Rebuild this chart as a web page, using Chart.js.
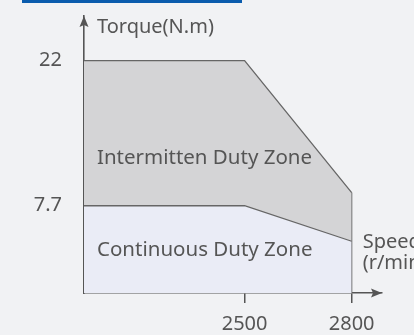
<!DOCTYPE html>
<html>
<head>
<meta charset="utf-8">
<script src="https://cdn.jsdelivr.net/npm/chart.js@4"></script>
<style>
  html, body { margin: 0; padding: 0; background: #f1f2f4; }
  #wrap { position: relative; width: 414px; height: 335px; }
</style>
</head>
<body>
<div id="wrap"><canvas id="torqueChart"></canvas></div>
<script>
// speed points: the first one sits on the vertical axis
const A_speeds = [2050, 2500, 2800];
const A_peakTorque = [22, 22, 9];
const A_ratedTorque = [7.7, 7.7, 4.2];
const A_speedTicks = [2500, 2800];
const A_torqueTicks = [7.7, 22];
const S_zoneLabels = ["Intermitten Duty Zone", "Continuous Duty Zone"];

const I_speedMin = 2050, I_speedMax = 2885;
const I_torqueMin = -0.9, I_torqueMax = 26.4;

const S_font = "'Noto Sans', sans-serif";
const S_text = "#555555";
const S_axis = "#555555";

function toPoints(A_y) {
    return A_speeds.map((x, i) => ({ x: x, y: A_y[i] }));
}

const lastSpeed = A_speeds[A_speeds.length - 1];

// no extra room around the axes for half labels
function noPadding(scale) {
    scale.paddingTop = 0;
    scale.paddingBottom = 0;
    scale.paddingLeft = 0;
    scale.paddingRight = 0;
}

// arrows, axis titles and zone names
const decorations = {
    id: "decorations",
    beforeDraw(chart) {
        const ctx = chart.ctx;
        ctx.save();
        ctx.fillStyle = "#0a5cad";
        ctx.fillRect(22, 0, 220, 3);
        ctx.restore();
    },
    afterDraw(chart) {
        const ctx = chart.ctx;
        const area = chart.chartArea;
        ctx.save();
        ctx.fillStyle = S_axis;
        // arrow on the torque axis
        ctx.beginPath();
        ctx.moveTo(area.left, area.top);
        ctx.lineTo(area.left + 4.5, area.top + 11);
        ctx.lineTo(area.left, area.top + 9);
        ctx.lineTo(area.left - 4.5, area.top + 11);
        ctx.closePath();
        ctx.fill();
        // arrow on the speed axis
        ctx.beginPath();
        ctx.moveTo(area.right, area.bottom);
        ctx.lineTo(area.right - 11, area.bottom - 4.5);
        ctx.lineTo(area.right - 9, area.bottom);
        ctx.lineTo(area.right - 11, area.bottom + 4.5);
        ctx.closePath();
        ctx.fill();

        ctx.fillStyle = S_text;
        ctx.font = "20px " + S_font;
        ctx.textAlign = "left";
        ctx.textBaseline = "middle";
        ctx.fillText("Torque(N.m)", area.left + 13, area.top + 11);
        const xS = chart.scales.x.getPixelForValue(lastSpeed);
        ctx.fillText("Speed", xS + 11, 242);
        ctx.fillText("(r/min)", xS + 11, 263);
        ctx.font = "20.5px " + S_font;
        ctx.fillText(S_zoneLabels[0], area.left + 13, 158);
        ctx.fillText(S_zoneLabels[1], area.left + 13, 250);
        ctx.restore();
    }
};

new Chart("torqueChart", {
    type: "line",
    data: {
        datasets: [{
            data: toPoints(A_ratedTorque),
            borderColor: "#666666",
            borderWidth: 1.3,
            backgroundColor: "#eaecf6",
            fill: "start",
            pointRadius: 0
        }, {
            data: toPoints(A_peakTorque),
            borderColor: "#666666",
            borderWidth: 1.3,
            backgroundColor: "#d4d4d6",
            fill: "-1",
            pointRadius: 0
        }, {
            // right edge of both zones
            data: [{ x: lastSpeed, y: A_peakTorque[A_peakTorque.length - 1] },
                   { x: lastSpeed, y: I_torqueMin }],
            borderColor: "#666666",
            borderWidth: 1.3,
            fill: false,
            pointRadius: 0
        }]
    },
    options: {
        responsive: true,
        maintainAspectRatio: false,
        animation: false,
        layout: { padding: { left: 0, right: 32, top: 16, bottom: 0 } },
        plugins: { legend: { display: false }, tooltip: { enabled: false } },
        scales: {
            x: {
                type: "linear",
                min: I_speedMin,
                max: I_speedMax,
                afterBuildTicks(scale) { scale.ticks = A_speedTicks.map(v => ({ value: v })); },
                afterFit(scale) { scale.height = 42; noPadding(scale); },
                ticks: {
                    color: S_text,
                    font: { family: S_font, size: 20 },
                    padding: 9,
                    maxRotation: 0,
                    callback: v => String(v)
                },
                grid: { drawOnChartArea: false, drawTicks: true, tickLength: 10, color: S_axis, lineWidth: 1.5 },
                border: { display: true, color: S_axis, width: 1.6 }
            },
            y: {
                min: I_torqueMin,
                max: I_torqueMax,
                afterBuildTicks(scale) { scale.ticks = A_torqueTicks.map(v => ({ value: v })); },
                afterFit(scale) { scale.width = 84; noPadding(scale); },
                ticks: {
                    color: S_text,
                    font: { family: S_font, size: 20 },
                    padding: 22,
                    callback: v => String(v)
                },
                grid: { drawOnChartArea: false, drawTicks: false },
                border: { display: true, color: S_axis, width: 1.6 }
            }
        }
    },
    plugins: [decorations]
});
</script>
</body>
</html>
